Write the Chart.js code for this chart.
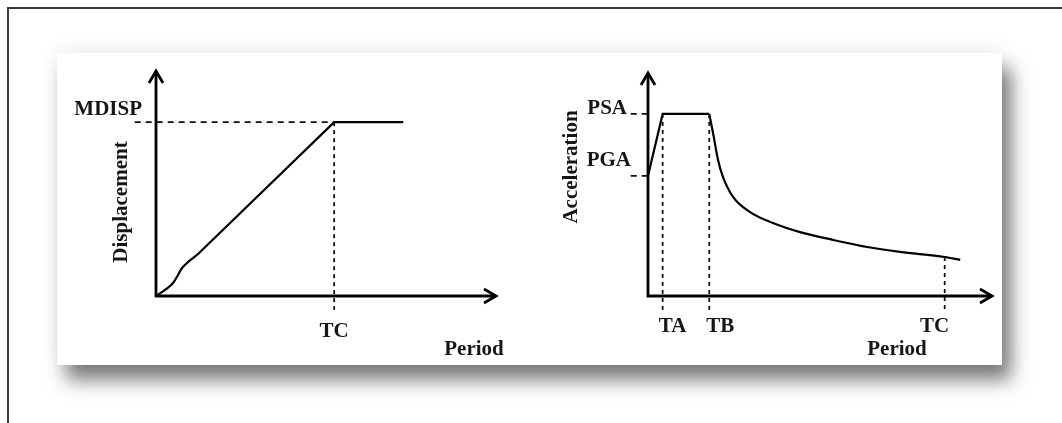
<!DOCTYPE html>
<html>
<head>
<meta charset="utf-8">
<script src="https://cdn.jsdelivr.net/npm/chart.js@4.4.1/dist/chart.umd.min.js"></script>
<style>
  html, body { margin: 0; padding: 0; background: #fff; width: 1062px; height: 423px; overflow: hidden; }
  #frame { position: absolute; left: 7px; top: 7px; width: 1060px; height: 420px;
           border-left: 2px solid #3c3c3c; border-top: 2px solid #3c3c3c; }
  #sheet { position: absolute; left: 57px; top: 53px; width: 945px; height: 312px; background: #fff;
           box-shadow: 9px 15px 18px rgba(0,0,0,0.52), 0 -6px 20px rgba(0,0,0,0.05); }
  canvas { position: absolute; top: 53px; }
  #dispChart { left: 57px; }
  #accChart { left: 560px; }
</style>
</head>
<body>
<div id="frame"></div>
<div id="sheet"></div>
<canvas id="dispChart" width="470" height="312"></canvas>
<canvas id="accChart" width="442" height="312"></canvas>

<script>
// displacement spectrum (period vs displacement)
const dispStartT = [0, 0.106, 0.2, 0.258, 0.305, 0.364, 0.481];
const dispStartD = [0, 0.035, 0.075, 0.121, 0.161, 0.19, 0.236];
const dispRampT  = [0.481, 2.09, 2.9];
const dispRampD  = [0.236, 1.0, 1.0];
const MDISP = 1.0;
const TC_DISP = 2.09;

// acceleration spectrum (period vs acceleration)
const PGA = 0.66;
const PSA = 1.0;
const TA = 0.17;
const TB = 0.71;
const TC_ACC = 3.44;
const plateauT = [0, TA, TB];
const plateauA = [PGA, PSA, PSA];
const decayT = [0.71, 0.754, 0.812, 0.87, 0.986, 1.183, 1.449, 1.762, 2.145, 2.539, 2.922, 3.44, 3.62];
const decayA = [1.0, 0.895, 0.747, 0.653, 0.544, 0.461, 0.401, 0.351, 0.308, 0.269, 0.242, 0.214, 0.198];

// how far guide lines run past the axes (data units)
const guideLeft = -0.2;
const guideBelow = -0.08;

const pts = (xs, ys) => xs.map((x, i) => ({ x: x, y: ys[i] }));

const FONT = 'bold 21px "Liberation Serif", "Times New Roman", serif';

// draws the arrowed axes and the symbolic labels
const sketchAxes = {
  id: 'sketchAxes',
  afterDatasetsDraw(chart, args, o) {
    const { ctx, chartArea: a, scales: { x, y } } = chart;
    const x0 = x.getPixelForValue(0);
    const y0 = y.getPixelForValue(0);
    ctx.save();
    ctx.strokeStyle = '#000';
    ctx.lineWidth = 2.8;
    ctx.lineJoin = 'miter';
    ctx.beginPath();
    ctx.moveTo(x0, a.top + 1);
    ctx.lineTo(x0, y0);
    ctx.lineTo(a.right - 1, y0);
    ctx.stroke();
    ctx.beginPath();
    ctx.moveTo(x0 - 7, a.top + 13);
    ctx.lineTo(x0, a.top + 1);
    ctx.lineTo(x0 + 7, a.top + 13);
    ctx.moveTo(a.right - 13, y0 - 7);
    ctx.lineTo(a.right - 1, y0);
    ctx.lineTo(a.right - 13, y0 + 7);
    ctx.stroke();

    ctx.fillStyle = '#161616';
    ctx.font = FONT;
    ctx.textBaseline = 'alphabetic';
    ctx.textAlign = 'center';
    o.xMarks.forEach(m => ctx.fillText(m.text, x.getPixelForValue(m.value) + m.dx, y0 + o.xMarkDrop));
    ctx.fillText(o.xTitle, a.right + o.xTitleDx, y0 + o.xTitleDrop);
    ctx.textAlign = 'right';
    o.yMarks.forEach(m => ctx.fillText(m.text, x0 + m.dx, y.getPixelForValue(m.value) + m.dy));

    ctx.translate(x0 + o.yTitleDx, (a.top + a.bottom) / 2 + o.yTitleDy);
    ctx.rotate(-Math.PI / 2);
    ctx.textAlign = 'center';
    ctx.fillText(o.yTitle, 0, 0);
    ctx.restore();
  }
};

function curve(data, tension) {
  return { data: data, borderColor: '#000', borderWidth: 2.2, pointRadius: 0, tension: tension, clip: false };
}
function guide(data, dash) {
  return { data: data, borderColor: '#111', borderWidth: 1.8, borderDash: dash, pointRadius: 0, clip: false };
}

function baseOptions(padding, xMax, yMax, axesOpts) {
  return {
    responsive: false,
    animation: false,
    layout: { padding: padding },
    scales: {
      x: { type: 'linear', min: 0, max: xMax, display: false },
      y: { type: 'linear', min: 0, max: yMax, display: false }
    },
    plugins: { legend: { display: false }, tooltip: { enabled: false }, sketchAxes: axesOpts }
  };
}

new Chart(document.getElementById('dispChart'), {
  type: 'line',
  data: {
    datasets: [
      guide([{ x: guideLeft - 0.05, y: MDISP }, { x: TC_DISP, y: MDISP }], [6, 5]),
      guide([{ x: TC_DISP, y: MDISP }, { x: TC_DISP, y: guideBelow }], [4, 4]),
      curve(pts(dispStartT, dispStartD), 0.3),
      curve(pts(dispRampT, dispRampD), 0)
    ]
  },
  options: baseOptions({ left: 99, top: 17, right: 30, bottom: 69 }, 4.0, 1.3, {
    xMarks: [{ text: 'TC', value: TC_DISP, dx: 0 }],
    xMarkDrop: 41,
    yMarks: [{ text: 'MDISP', value: MDISP, dx: -14, dy: -7 }],
    xTitle: 'Period', xTitleDx: -23, xTitleDrop: 59,
    yTitle: 'Displacement', yTitleDx: -29, yTitleDy: 19
  }),
  plugins: [sketchAxes]
});

new Chart(document.getElementById('accChart'), {
  type: 'line',
  data: {
    datasets: [
      guide([{ x: guideLeft, y: PSA }, { x: 0, y: PSA }], [6, 5]),
      guide([{ x: guideLeft, y: PGA }, { x: 0, y: PGA }], [6, 5]),
      guide([{ x: TA, y: PSA }, { x: TA, y: guideBelow }], [4, 4]),
      guide([{ x: TB, y: PSA }, { x: TB, y: guideBelow }], [4, 4]),
      guide([{ x: TC_ACC, y: decayA[decayT.indexOf(TC_ACC)] }, { x: TC_ACC, y: guideBelow }], [4, 4]),
      curve(pts(plateauT, plateauA), 0),
      { ...curve(pts(decayT, decayA), 0), cubicInterpolationMode: 'monotone' }
    ]
  },
  options: baseOptions({ left: 88, top: 19, right: 9, bottom: 69 }, 4.0, 1.23, {
    xMarks: [
      { text: 'TA', value: TA, dx: 10 },
      { text: 'TB', value: TB, dx: 11 },
      { text: 'TC', value: TC_ACC, dx: -10 }
    ],
    xMarkDrop: 36,
    yMarks: [
      { text: 'PSA', value: PSA, dx: -21, dy: 0 },
      { text: 'PGA', value: PGA, dx: -17, dy: -10 }
    ],
    xTitle: 'Period', xTitleDx: -96, xTitleDrop: 59,
    yTitle: 'Acceleration', yTitleDx: -71, yTitleDy: -17
  }),
  plugins: [sketchAxes]
});
</script>
</body>
</html>
